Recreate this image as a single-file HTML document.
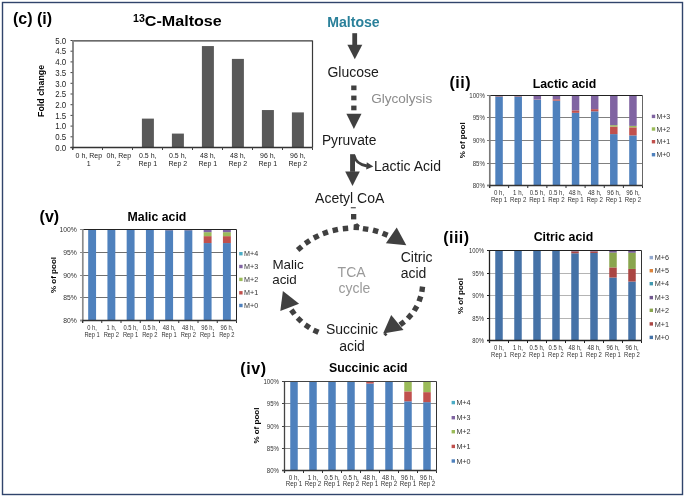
<!DOCTYPE html>
<html><head><meta charset="utf-8"><style>
html,body{margin:0;padding:0;background:#fff;}
body{width:685px;height:497px;overflow:hidden;}
svg{display:block;font-family:"Liberation Sans", sans-serif;will-change:transform;}
</style></head><body>
<svg width="685" height="497" viewBox="0 0 685 497">
<rect width="685" height="497" fill="#fff"/>
<rect x="2.5" y="2.5" width="680" height="492" fill="none" stroke="#30446b" stroke-width="1.4"/>
<rect x="141.9" y="118.61" width="12" height="28.89" fill="#595959"/>
<rect x="171.9" y="133.59" width="12" height="13.91" fill="#595959"/>
<rect x="201.9" y="46.06" width="12" height="101.44" fill="#595959"/>
<rect x="231.9" y="58.90" width="12" height="88.60" fill="#595959"/>
<rect x="261.9" y="110.05" width="12" height="37.45" fill="#595959"/>
<rect x="291.9" y="112.40" width="12" height="35.10" fill="#595959"/>
<line x1="72.5" y1="40.9" x2="312.5" y2="40.9" stroke="#3a3a3a" stroke-width="1.3"/>
<line x1="312.5" y1="40.5" x2="312.5" y2="147.5" stroke="#3a3a3a" stroke-width="1.2"/>
<line x1="73.0" y1="40.5" x2="73.0" y2="149.8" stroke="#8a8a8a" stroke-width="2"/>
<line x1="70.5" y1="147.5" x2="312.5" y2="147.5" stroke="#333" stroke-width="1.4"/>
<line x1="70.5" y1="147.50" x2="72.5" y2="147.50" stroke="#444" stroke-width="1"/>
<text transform="translate(66.2,150.70) scale(0.875,1)" font-size="9" text-anchor="end" font-weight="normal" fill="#222">0.0</text>
<line x1="70.5" y1="136.80" x2="72.5" y2="136.80" stroke="#444" stroke-width="1"/>
<text transform="translate(66.2,140.00) scale(0.875,1)" font-size="9" text-anchor="end" font-weight="normal" fill="#222">0.5</text>
<line x1="70.5" y1="126.10" x2="72.5" y2="126.10" stroke="#444" stroke-width="1"/>
<text transform="translate(66.2,129.30) scale(0.875,1)" font-size="9" text-anchor="end" font-weight="normal" fill="#222">1.0</text>
<line x1="70.5" y1="115.40" x2="72.5" y2="115.40" stroke="#444" stroke-width="1"/>
<text transform="translate(66.2,118.60) scale(0.875,1)" font-size="9" text-anchor="end" font-weight="normal" fill="#222">1.5</text>
<line x1="70.5" y1="104.70" x2="72.5" y2="104.70" stroke="#444" stroke-width="1"/>
<text transform="translate(66.2,107.90) scale(0.875,1)" font-size="9" text-anchor="end" font-weight="normal" fill="#222">2.0</text>
<line x1="70.5" y1="94.00" x2="72.5" y2="94.00" stroke="#444" stroke-width="1"/>
<text transform="translate(66.2,97.20) scale(0.875,1)" font-size="9" text-anchor="end" font-weight="normal" fill="#222">2.5</text>
<line x1="70.5" y1="83.30" x2="72.5" y2="83.30" stroke="#444" stroke-width="1"/>
<text transform="translate(66.2,86.50) scale(0.875,1)" font-size="9" text-anchor="end" font-weight="normal" fill="#222">3.0</text>
<line x1="70.5" y1="72.60" x2="72.5" y2="72.60" stroke="#444" stroke-width="1"/>
<text transform="translate(66.2,75.80) scale(0.875,1)" font-size="9" text-anchor="end" font-weight="normal" fill="#222">3.5</text>
<line x1="70.5" y1="61.90" x2="72.5" y2="61.90" stroke="#444" stroke-width="1"/>
<text transform="translate(66.2,65.10) scale(0.875,1)" font-size="9" text-anchor="end" font-weight="normal" fill="#222">4.0</text>
<line x1="70.5" y1="51.20" x2="72.5" y2="51.20" stroke="#444" stroke-width="1"/>
<text transform="translate(66.2,54.40) scale(0.875,1)" font-size="9" text-anchor="end" font-weight="normal" fill="#222">4.5</text>
<line x1="70.5" y1="40.50" x2="72.5" y2="40.50" stroke="#444" stroke-width="1"/>
<text transform="translate(66.2,43.70) scale(0.875,1)" font-size="9" text-anchor="end" font-weight="normal" fill="#222">5.0</text>
<line x1="72.5" y1="147.5" x2="72.5" y2="150.0" stroke="#444" stroke-width="1"/>
<line x1="102.5" y1="147.5" x2="102.5" y2="150.0" stroke="#444" stroke-width="1"/>
<line x1="132.5" y1="147.5" x2="132.5" y2="150.0" stroke="#444" stroke-width="1"/>
<line x1="162.5" y1="147.5" x2="162.5" y2="150.0" stroke="#444" stroke-width="1"/>
<line x1="192.5" y1="147.5" x2="192.5" y2="150.0" stroke="#444" stroke-width="1"/>
<line x1="222.5" y1="147.5" x2="222.5" y2="150.0" stroke="#444" stroke-width="1"/>
<line x1="252.5" y1="147.5" x2="252.5" y2="150.0" stroke="#444" stroke-width="1"/>
<line x1="282.5" y1="147.5" x2="282.5" y2="150.0" stroke="#444" stroke-width="1"/>
<line x1="312.5" y1="147.5" x2="312.5" y2="150.0" stroke="#444" stroke-width="1"/>
<text x="88.8" y="158.3" font-size="7" text-anchor="middle" font-weight="normal" fill="#222" >0 h, Rep</text>
<text x="88.8" y="165.9" font-size="7" text-anchor="middle" font-weight="normal" fill="#222" >1</text>
<text x="118.8" y="158.3" font-size="7" text-anchor="middle" font-weight="normal" fill="#222" >0h, Rep</text>
<text x="118.8" y="165.9" font-size="7" text-anchor="middle" font-weight="normal" fill="#222" >2</text>
<text x="147.8" y="158.3" font-size="7" text-anchor="middle" font-weight="normal" fill="#222" >0.5 h,</text>
<text x="147.8" y="165.9" font-size="7" text-anchor="middle" font-weight="normal" fill="#222" >Rep 1</text>
<text x="177.8" y="158.3" font-size="7" text-anchor="middle" font-weight="normal" fill="#222" >0.5 h,</text>
<text x="177.8" y="165.9" font-size="7" text-anchor="middle" font-weight="normal" fill="#222" >Rep 2</text>
<text x="207.8" y="158.3" font-size="7" text-anchor="middle" font-weight="normal" fill="#222" >48 h,</text>
<text x="207.8" y="165.9" font-size="7" text-anchor="middle" font-weight="normal" fill="#222" >Rep 1</text>
<text x="237.8" y="158.3" font-size="7" text-anchor="middle" font-weight="normal" fill="#222" >48 h,</text>
<text x="237.8" y="165.9" font-size="7" text-anchor="middle" font-weight="normal" fill="#222" >Rep 2</text>
<text x="267.8" y="158.3" font-size="7" text-anchor="middle" font-weight="normal" fill="#222" >96 h,</text>
<text x="267.8" y="165.9" font-size="7" text-anchor="middle" font-weight="normal" fill="#222" >Rep 1</text>
<text x="297.8" y="158.3" font-size="7" text-anchor="middle" font-weight="normal" fill="#222" >96 h,</text>
<text x="297.8" y="165.9" font-size="7" text-anchor="middle" font-weight="normal" fill="#222" >Rep 2</text>
<text x="0" y="0" font-size="8.9" font-weight="bold" text-anchor="middle" transform="translate(44,90.9) rotate(-90)">Fold change</text>
<text x="13" y="23.7" font-size="16" text-anchor="start" font-weight="bold" fill="#000" >(c) (i)</text>
<text transform="translate(133,26.4) scale(1.06,1)" font-size="15.2" font-weight="bold"><tspan font-size="10" dy="-4.8">13</tspan><tspan dy="4.8">C-Maltose</tspan></text>
<text x="327.2" y="26.5" font-size="14.1" text-anchor="start" font-weight="bold" fill="#2a809a" >Maltose</text>
<rect x="352.3" y="33.2" width="4.8" height="11.8" fill="#404040"/>
<polygon points="347.4,44.8 362.3,44.8 354.8,59.2" fill="#404040"/>
<text x="327.4" y="76.8" font-size="14" text-anchor="start" font-weight="normal" fill="#1a1a1a" >Glucose</text>
<rect x="351.2" y="85.5" width="5.3" height="4.7" fill="#404040"/>
<rect x="351.2" y="95.6" width="5.3" height="4.7" fill="#404040"/>
<rect x="351.2" y="105.6" width="5.3" height="4.7" fill="#404040"/>
<polygon points="346.4,113.8 361.5,113.8 353.9,129" fill="#404040"/>
<text x="371.2" y="102.7" font-size="13.55" text-anchor="start" font-weight="normal" fill="#8c8c8c" >Glycolysis</text>
<text x="321.9" y="144.9" font-size="13.8" text-anchor="start" font-weight="normal" fill="#1a1a1a" >Pyruvate</text>
<rect x="350.1" y="154.2" width="4.9" height="17.6" fill="#404040"/>
<polygon points="345.2,171.6 359.8,171.6 352.5,186" fill="#404040"/>
<path d="M353.8,155 C355.5,162 359.5,164.8 367,166" fill="none" stroke="#404040" stroke-width="3"/>
<polygon points="366.8,162.2 373.3,166.4 366.2,169.4" fill="#404040"/>
<text x="374" y="170.9" font-size="14" text-anchor="start" font-weight="normal" fill="#1a1a1a" >Lactic Acid</text>
<rect x="351" y="214" width="5.3" height="5.4" fill="#404040"/>
<rect x="350.8" y="207.2" width="5" height="1.1" fill="#404040"/>
<text x="315.1" y="203.1" font-size="14" text-anchor="start" font-weight="normal" fill="#1a1a1a" >Acetyl CoA</text>
<rect x="297.00" y="245.60" width="5.4" height="5.4" fill="#404040" transform="rotate(-40.3 299.7 248.3)"/>
<rect x="304.80" y="239.20" width="5.4" height="5.4" fill="#404040" transform="rotate(-33.3 307.5 241.9)"/>
<rect x="313.50" y="234.10" width="5.4" height="5.4" fill="#404040" transform="rotate(-26.3 316.2 236.8)"/>
<rect x="322.70" y="230.10" width="5.4" height="5.4" fill="#404040" transform="rotate(-19.4 325.4 232.8)"/>
<rect x="332.60" y="227.30" width="5.4" height="5.4" fill="#404040" transform="rotate(-12.3 335.3 230)"/>
<rect x="342.80" y="225.80" width="5.4" height="5.4" fill="#404040" transform="rotate(-5.2 345.5 228.5)"/>
<rect x="353.60" y="224.70" width="5.4" height="5.4" fill="#404040" transform="rotate(2.3 356.3 227.4)"/>
<rect x="362.90" y="226.30" width="5.4" height="5.4" fill="#404040" transform="rotate(8.7 365.6 229)"/>
<rect x="372.90" y="228.10" width="5.4" height="5.4" fill="#404040" transform="rotate(15.7 375.6 230.8)"/>
<rect x="382.40" y="231.50" width="5.4" height="5.4" fill="#404040" transform="rotate(22.7 385.1 234.2)"/>
<polygon points="354.2,224.5 357.3,223.3 359.8,225.5 358.5,228 354,228" fill="#404040"/>
<polygon points="396.7,227.4 406.3,245.3 385.9,243.2" fill="#404040"/>
<rect x="419.50" y="286.60" width="5.4" height="5.4" fill="#404040" transform="rotate(97.6 422.2 289.3)"/>
<rect x="417.20" y="296.20" width="5.4" height="5.4" fill="#404040" transform="rotate(108.6 419.9 298.9)"/>
<rect x="412.90" y="305.70" width="5.4" height="5.4" fill="#404040" transform="rotate(120.2 415.6 308.4)"/>
<rect x="406.90" y="313.70" width="5.4" height="5.4" fill="#404040" transform="rotate(131.4 409.6 316.4)"/>
<rect x="399.50" y="320.50" width="5.4" height="5.4" fill="#404040" transform="rotate(142.6 402.2 323.2)"/>
<polygon points="391.2,314.9 403.5,330 383.1,333.5" fill="#404040"/>
<rect x="384" y="333" width="3" height="2.6" fill="#404040" transform="rotate(45 385.5 334.3)"/>
<rect x="290.20" y="309.40" width="5.4" height="5.4" fill="#404040" transform="rotate(234.1 292.9 312.1)"/>
<rect x="296.80" y="317.00" width="5.4" height="5.4" fill="#404040" transform="rotate(224.0 299.5 319.7)"/>
<rect x="304.70" y="323.50" width="5.4" height="5.4" fill="#404040" transform="rotate(213.7 307.4 326.2)"/>
<rect x="313.30" y="328.50" width="5.4" height="5.4" fill="#404040" transform="rotate(203.7 316 331.2)"/>
<polygon points="282.9,291 299.1,303.7 280.3,311.1" fill="#404040"/>
<text x="272.4" y="268.5" font-size="13.4" text-anchor="start" font-weight="normal" fill="#1a1a1a" >Malic</text>
<text x="272.2" y="284.4" font-size="13.4" text-anchor="start" font-weight="normal" fill="#1a1a1a" >acid</text>
<text x="337.6" y="276.6" font-size="14" text-anchor="start" font-weight="normal" fill="#9a9a9a" >TCA</text>
<text x="338.4" y="292.6" font-size="14" text-anchor="start" font-weight="normal" fill="#9a9a9a" >cycle</text>
<text x="400.7" y="261.6" font-size="14" text-anchor="start" font-weight="normal" fill="#1a1a1a" >Citric</text>
<text x="400.7" y="278.1" font-size="14" text-anchor="start" font-weight="normal" fill="#1a1a1a" >acid</text>
<text x="352" y="333.7" font-size="14" text-anchor="middle" font-weight="normal" fill="#1a1a1a" >Succinic</text>
<text x="352" y="350.7" font-size="14" text-anchor="middle" font-weight="normal" fill="#1a1a1a" >acid</text>
<line x1="489.5" y1="117.50" x2="642.5" y2="117.50" stroke="#808080" stroke-width="1"/>
<line x1="489.5" y1="140.50" x2="642.5" y2="140.50" stroke="#808080" stroke-width="1"/>
<line x1="489.5" y1="163.50" x2="642.5" y2="163.50" stroke="#808080" stroke-width="1"/>
<rect x="495.31" y="96.40" width="7.5" height="89.10" fill="#4f81bd"/>
<rect x="495.31" y="95.50" width="7.5" height="0.90" fill="#c0504d"/>
<rect x="514.44" y="96.40" width="7.5" height="89.10" fill="#4f81bd"/>
<rect x="514.44" y="95.50" width="7.5" height="0.90" fill="#c0504d"/>
<rect x="533.56" y="99.69" width="7.5" height="85.81" fill="#4f81bd"/>
<rect x="533.56" y="99.46" width="7.5" height="0.22" fill="#c0504d"/>
<rect x="533.56" y="95.50" width="7.5" height="3.96" fill="#8064a2"/>
<rect x="552.69" y="100.68" width="7.5" height="84.82" fill="#4f81bd"/>
<rect x="552.69" y="99.33" width="7.5" height="1.35" fill="#c0504d"/>
<rect x="552.69" y="95.50" width="7.5" height="3.82" fill="#8064a2"/>
<rect x="571.81" y="112.82" width="7.5" height="72.68" fill="#4f81bd"/>
<rect x="571.81" y="110.35" width="7.5" height="2.47" fill="#c0504d"/>
<rect x="571.81" y="95.50" width="7.5" height="14.85" fill="#8064a2"/>
<rect x="590.94" y="111.34" width="7.5" height="74.16" fill="#4f81bd"/>
<rect x="590.94" y="109.14" width="7.5" height="2.20" fill="#c0504d"/>
<rect x="590.94" y="95.50" width="7.5" height="13.64" fill="#8064a2"/>
<rect x="610.06" y="134.11" width="7.5" height="51.39" fill="#4f81bd"/>
<rect x="610.06" y="126.55" width="7.5" height="7.56" fill="#c0504d"/>
<rect x="610.06" y="125.15" width="7.5" height="1.40" fill="#9bbb59"/>
<rect x="610.06" y="95.50" width="7.5" height="29.65" fill="#8064a2"/>
<rect x="629.19" y="135.42" width="7.5" height="50.08" fill="#4f81bd"/>
<rect x="629.19" y="127.36" width="7.5" height="8.06" fill="#c0504d"/>
<rect x="629.19" y="125.88" width="7.5" height="1.48" fill="#9bbb59"/>
<rect x="629.19" y="95.50" width="7.5" height="30.38" fill="#8064a2"/>
<line x1="489.5" y1="95.5" x2="642.5" y2="95.5" stroke="#222" stroke-width="1"/>
<line x1="642.5" y1="95.5" x2="642.5" y2="185.5" stroke="#666" stroke-width="1"/>
<line x1="489.8" y1="95.0" x2="489.8" y2="188.0" stroke="#7a7a7a" stroke-width="1.7"/>
<line x1="487.0" y1="185.5" x2="642.5" y2="185.5" stroke="#333" stroke-width="1.3"/>
<line x1="487.0" y1="95.50" x2="489.5" y2="95.50" stroke="#7a7a7a" stroke-width="1"/>
<text transform="translate(484.8,98.01) scale(0.87,1)" font-size="7" text-anchor="end" font-weight="normal" fill="#333">100%</text>
<line x1="487.0" y1="117.50" x2="489.5" y2="117.50" stroke="#7a7a7a" stroke-width="1"/>
<text transform="translate(484.8,120.01) scale(0.87,1)" font-size="7" text-anchor="end" font-weight="normal" fill="#333">95%</text>
<line x1="487.0" y1="140.50" x2="489.5" y2="140.50" stroke="#7a7a7a" stroke-width="1"/>
<text transform="translate(484.8,143.01) scale(0.87,1)" font-size="7" text-anchor="end" font-weight="normal" fill="#333">90%</text>
<line x1="487.0" y1="163.50" x2="489.5" y2="163.50" stroke="#7a7a7a" stroke-width="1"/>
<text transform="translate(484.8,166.01) scale(0.87,1)" font-size="7" text-anchor="end" font-weight="normal" fill="#333">85%</text>
<line x1="487.0" y1="185.50" x2="489.5" y2="185.50" stroke="#7a7a7a" stroke-width="1"/>
<text transform="translate(484.8,188.01) scale(0.87,1)" font-size="7" text-anchor="end" font-weight="normal" fill="#333">80%</text>
<line x1="489.50" y1="185.5" x2="489.50" y2="188.0" stroke="#333" stroke-width="1"/>
<line x1="508.62" y1="185.5" x2="508.62" y2="188.0" stroke="#333" stroke-width="1"/>
<line x1="527.75" y1="185.5" x2="527.75" y2="188.0" stroke="#333" stroke-width="1"/>
<line x1="546.88" y1="185.5" x2="546.88" y2="188.0" stroke="#333" stroke-width="1"/>
<line x1="566.00" y1="185.5" x2="566.00" y2="188.0" stroke="#333" stroke-width="1"/>
<line x1="585.12" y1="185.5" x2="585.12" y2="188.0" stroke="#333" stroke-width="1"/>
<line x1="604.25" y1="185.5" x2="604.25" y2="188.0" stroke="#333" stroke-width="1"/>
<line x1="623.38" y1="185.5" x2="623.38" y2="188.0" stroke="#333" stroke-width="1"/>
<line x1="642.50" y1="185.5" x2="642.50" y2="188.0" stroke="#333" stroke-width="1"/>
<text transform="translate(499.06,194.9) scale(0.9,1)" font-size="6.8" text-anchor="middle" font-weight="normal" fill="#333">0 h,</text>
<text transform="translate(499.06,201.9) scale(0.9,1)" font-size="6.8" text-anchor="middle" font-weight="normal" fill="#333">Rep 1</text>
<text transform="translate(518.19,194.9) scale(0.9,1)" font-size="6.8" text-anchor="middle" font-weight="normal" fill="#333">1 h,</text>
<text transform="translate(518.19,201.9) scale(0.9,1)" font-size="6.8" text-anchor="middle" font-weight="normal" fill="#333">Rep 2</text>
<text transform="translate(537.31,194.9) scale(0.9,1)" font-size="6.8" text-anchor="middle" font-weight="normal" fill="#333">0.5 h,</text>
<text transform="translate(537.31,201.9) scale(0.9,1)" font-size="6.8" text-anchor="middle" font-weight="normal" fill="#333">Rep 1</text>
<text transform="translate(556.44,194.9) scale(0.9,1)" font-size="6.8" text-anchor="middle" font-weight="normal" fill="#333">0.5 h,</text>
<text transform="translate(556.44,201.9) scale(0.9,1)" font-size="6.8" text-anchor="middle" font-weight="normal" fill="#333">Rep 2</text>
<text transform="translate(575.56,194.9) scale(0.9,1)" font-size="6.8" text-anchor="middle" font-weight="normal" fill="#333">48 h,</text>
<text transform="translate(575.56,201.9) scale(0.9,1)" font-size="6.8" text-anchor="middle" font-weight="normal" fill="#333">Rep 1</text>
<text transform="translate(594.69,194.9) scale(0.9,1)" font-size="6.8" text-anchor="middle" font-weight="normal" fill="#333">48 h,</text>
<text transform="translate(594.69,201.9) scale(0.9,1)" font-size="6.8" text-anchor="middle" font-weight="normal" fill="#333">Rep 2</text>
<text transform="translate(613.81,194.9) scale(0.9,1)" font-size="6.8" text-anchor="middle" font-weight="normal" fill="#333">96 h,</text>
<text transform="translate(613.81,201.9) scale(0.9,1)" font-size="6.8" text-anchor="middle" font-weight="normal" fill="#333">Rep 1</text>
<text transform="translate(632.94,194.9) scale(0.9,1)" font-size="6.8" text-anchor="middle" font-weight="normal" fill="#333">96 h,</text>
<text transform="translate(632.94,201.9) scale(0.9,1)" font-size="6.8" text-anchor="middle" font-weight="normal" fill="#333">Rep 2</text>
<text x="0" y="0" font-size="8" font-weight="bold" text-anchor="middle" transform="translate(464.8,140.3) rotate(-90)" fill="#000">% of pool</text>
<text x="532.7" y="88.1" font-size="12.3" text-anchor="start" font-weight="bold" fill="#000" >Lactic acid</text>
<text x="449.6" y="87.7" font-size="16" text-anchor="start" font-weight="bold" fill="#000" letter-spacing="0.45">(ii)</text>
<rect x="651.8" y="114.70" width="3.4" height="3.4" fill="#8064a2"/>
<text transform="translate(656.5,119.00) scale(0.89,1)" font-size="7.8" text-anchor="start" font-weight="normal" fill="#333">M+3</text>
<rect x="651.8" y="127.30" width="3.4" height="3.4" fill="#9bbb59"/>
<text transform="translate(656.5,131.60) scale(0.89,1)" font-size="7.8" text-anchor="start" font-weight="normal" fill="#333">M+2</text>
<rect x="651.8" y="140.00" width="3.4" height="3.4" fill="#c0504d"/>
<text transform="translate(656.5,144.30) scale(0.89,1)" font-size="7.8" text-anchor="start" font-weight="normal" fill="#333">M+1</text>
<rect x="651.8" y="153.00" width="3.4" height="3.4" fill="#4f81bd"/>
<text transform="translate(656.5,157.30) scale(0.89,1)" font-size="7.8" text-anchor="start" font-weight="normal" fill="#333">M+0</text>
<line x1="489.5" y1="273.50" x2="641.5" y2="273.50" stroke="#b4b4b4" stroke-width="1"/>
<line x1="489.5" y1="295.50" x2="641.5" y2="295.50" stroke="#b4b4b4" stroke-width="1"/>
<line x1="489.5" y1="318.50" x2="641.5" y2="318.50" stroke="#b4b4b4" stroke-width="1"/>
<rect x="495.25" y="250.95" width="7.5" height="89.55" fill="#4572a7"/>
<rect x="495.25" y="250.50" width="7.5" height="0.45" fill="#aa4643"/>
<rect x="514.25" y="250.50" width="7.5" height="90.00" fill="#4572a7"/>
<rect x="533.25" y="250.95" width="7.5" height="89.55" fill="#4572a7"/>
<rect x="533.25" y="250.50" width="7.5" height="0.45" fill="#aa4643"/>
<rect x="552.25" y="250.50" width="7.5" height="90.00" fill="#4572a7"/>
<rect x="571.25" y="253.29" width="7.5" height="87.21" fill="#4572a7"/>
<rect x="571.25" y="251.40" width="7.5" height="1.89" fill="#aa4643"/>
<rect x="571.25" y="250.50" width="7.5" height="0.90" fill="#71588f"/>
<rect x="590.25" y="252.97" width="7.5" height="87.53" fill="#4572a7"/>
<rect x="590.25" y="251.40" width="7.5" height="1.57" fill="#aa4643"/>
<rect x="590.25" y="250.50" width="7.5" height="0.90" fill="#71588f"/>
<rect x="609.25" y="277.55" width="7.5" height="62.95" fill="#4572a7"/>
<rect x="609.25" y="267.42" width="7.5" height="10.12" fill="#aa4643"/>
<rect x="609.25" y="252.57" width="7.5" height="14.85" fill="#89a54e"/>
<rect x="609.25" y="250.50" width="7.5" height="2.07" fill="#71588f"/>
<rect x="628.25" y="281.55" width="7.5" height="58.95" fill="#4572a7"/>
<rect x="628.25" y="268.95" width="7.5" height="12.60" fill="#aa4643"/>
<rect x="628.25" y="252.75" width="7.5" height="16.20" fill="#89a54e"/>
<rect x="628.25" y="250.50" width="7.5" height="2.25" fill="#71588f"/>
<line x1="489.5" y1="250.5" x2="641.5" y2="250.5" stroke="#222" stroke-width="1"/>
<line x1="641.5" y1="250.5" x2="641.5" y2="340.5" stroke="#333" stroke-width="1"/>
<line x1="489.5" y1="250.0" x2="489.5" y2="343.0" stroke="#222" stroke-width="1.3"/>
<line x1="487.0" y1="340.5" x2="641.5" y2="340.5" stroke="#222" stroke-width="1.3"/>
<line x1="487.0" y1="250.50" x2="489.5" y2="250.50" stroke="#222" stroke-width="1"/>
<text transform="translate(484,253.01) scale(0.84,1)" font-size="7" text-anchor="end" font-weight="normal" fill="#333">100%</text>
<line x1="487.0" y1="273.50" x2="489.5" y2="273.50" stroke="#222" stroke-width="1"/>
<text transform="translate(484,276.01) scale(0.84,1)" font-size="7" text-anchor="end" font-weight="normal" fill="#333">95%</text>
<line x1="487.0" y1="295.50" x2="489.5" y2="295.50" stroke="#222" stroke-width="1"/>
<text transform="translate(484,298.01) scale(0.84,1)" font-size="7" text-anchor="end" font-weight="normal" fill="#333">90%</text>
<line x1="487.0" y1="318.50" x2="489.5" y2="318.50" stroke="#222" stroke-width="1"/>
<text transform="translate(484,321.01) scale(0.84,1)" font-size="7" text-anchor="end" font-weight="normal" fill="#333">85%</text>
<line x1="487.0" y1="340.50" x2="489.5" y2="340.50" stroke="#222" stroke-width="1"/>
<text transform="translate(484,343.01) scale(0.84,1)" font-size="7" text-anchor="end" font-weight="normal" fill="#333">80%</text>
<line x1="489.50" y1="340.5" x2="489.50" y2="343.0" stroke="#222" stroke-width="1"/>
<line x1="508.50" y1="340.5" x2="508.50" y2="343.0" stroke="#222" stroke-width="1"/>
<line x1="527.50" y1="340.5" x2="527.50" y2="343.0" stroke="#222" stroke-width="1"/>
<line x1="546.50" y1="340.5" x2="546.50" y2="343.0" stroke="#222" stroke-width="1"/>
<line x1="565.50" y1="340.5" x2="565.50" y2="343.0" stroke="#222" stroke-width="1"/>
<line x1="584.50" y1="340.5" x2="584.50" y2="343.0" stroke="#222" stroke-width="1"/>
<line x1="603.50" y1="340.5" x2="603.50" y2="343.0" stroke="#222" stroke-width="1"/>
<line x1="622.50" y1="340.5" x2="622.50" y2="343.0" stroke="#222" stroke-width="1"/>
<line x1="641.50" y1="340.5" x2="641.50" y2="343.0" stroke="#222" stroke-width="1"/>
<text transform="translate(499.00,349.8) scale(0.87,1)" font-size="6.8" text-anchor="middle" font-weight="normal" fill="#333">0 h,</text>
<text transform="translate(499.00,356.8) scale(0.87,1)" font-size="6.8" text-anchor="middle" font-weight="normal" fill="#333">Rep 1</text>
<text transform="translate(518.00,349.8) scale(0.87,1)" font-size="6.8" text-anchor="middle" font-weight="normal" fill="#333">1 h,</text>
<text transform="translate(518.00,356.8) scale(0.87,1)" font-size="6.8" text-anchor="middle" font-weight="normal" fill="#333">Rep 2</text>
<text transform="translate(537.00,349.8) scale(0.87,1)" font-size="6.8" text-anchor="middle" font-weight="normal" fill="#333">0.5 h,</text>
<text transform="translate(537.00,356.8) scale(0.87,1)" font-size="6.8" text-anchor="middle" font-weight="normal" fill="#333">Rep 1</text>
<text transform="translate(556.00,349.8) scale(0.87,1)" font-size="6.8" text-anchor="middle" font-weight="normal" fill="#333">0.5 h,</text>
<text transform="translate(556.00,356.8) scale(0.87,1)" font-size="6.8" text-anchor="middle" font-weight="normal" fill="#333">Rep 2</text>
<text transform="translate(575.00,349.8) scale(0.87,1)" font-size="6.8" text-anchor="middle" font-weight="normal" fill="#333">48 h,</text>
<text transform="translate(575.00,356.8) scale(0.87,1)" font-size="6.8" text-anchor="middle" font-weight="normal" fill="#333">Rep 1</text>
<text transform="translate(594.00,349.8) scale(0.87,1)" font-size="6.8" text-anchor="middle" font-weight="normal" fill="#333">48 h,</text>
<text transform="translate(594.00,356.8) scale(0.87,1)" font-size="6.8" text-anchor="middle" font-weight="normal" fill="#333">Rep 2</text>
<text transform="translate(613.00,349.8) scale(0.87,1)" font-size="6.8" text-anchor="middle" font-weight="normal" fill="#333">96 h,</text>
<text transform="translate(613.00,356.8) scale(0.87,1)" font-size="6.8" text-anchor="middle" font-weight="normal" fill="#333">Rep 1</text>
<text transform="translate(632.00,349.8) scale(0.87,1)" font-size="6.8" text-anchor="middle" font-weight="normal" fill="#333">96 h,</text>
<text transform="translate(632.00,356.8) scale(0.87,1)" font-size="6.8" text-anchor="middle" font-weight="normal" fill="#333">Rep 2</text>
<text x="0" y="0" font-size="8" font-weight="bold" text-anchor="middle" transform="translate(463.0,296.1) rotate(-90)" fill="#000">% of pool</text>
<text x="533.7" y="241.2" font-size="12.3" text-anchor="start" font-weight="bold" fill="#000" >Citric acid</text>
<text x="443.3" y="243.3" font-size="16" text-anchor="start" font-weight="bold" fill="#000" letter-spacing="0.45">(iii)</text>
<rect x="649.6" y="255.90" width="3.4" height="3.4" fill="#93a9cf"/>
<text transform="translate(654.7,260.20) scale(0.93,1)" font-size="7.8" text-anchor="start" font-weight="normal" fill="#333">M+6</text>
<rect x="649.6" y="269.00" width="3.4" height="3.4" fill="#db843d"/>
<text transform="translate(654.7,273.30) scale(0.93,1)" font-size="7.8" text-anchor="start" font-weight="normal" fill="#333">M+5</text>
<rect x="649.6" y="282.00" width="3.4" height="3.4" fill="#4198af"/>
<text transform="translate(654.7,286.30) scale(0.93,1)" font-size="7.8" text-anchor="start" font-weight="normal" fill="#333">M+4</text>
<rect x="649.6" y="295.90" width="3.4" height="3.4" fill="#71588f"/>
<text transform="translate(654.7,300.20) scale(0.93,1)" font-size="7.8" text-anchor="start" font-weight="normal" fill="#333">M+3</text>
<rect x="649.6" y="308.60" width="3.4" height="3.4" fill="#89a54e"/>
<text transform="translate(654.7,312.90) scale(0.93,1)" font-size="7.8" text-anchor="start" font-weight="normal" fill="#333">M+2</text>
<rect x="649.6" y="322.20" width="3.4" height="3.4" fill="#aa4643"/>
<text transform="translate(654.7,326.50) scale(0.93,1)" font-size="7.8" text-anchor="start" font-weight="normal" fill="#333">M+1</text>
<rect x="649.6" y="335.70" width="3.4" height="3.4" fill="#4572a7"/>
<text transform="translate(654.7,340.00) scale(0.93,1)" font-size="7.8" text-anchor="start" font-weight="normal" fill="#333">M+0</text>
<line x1="284.5" y1="403.50" x2="436.5" y2="403.50" stroke="#8c8c8c" stroke-width="1"/>
<line x1="284.5" y1="426.50" x2="436.5" y2="426.50" stroke="#8c8c8c" stroke-width="1"/>
<line x1="284.5" y1="448.50" x2="436.5" y2="448.50" stroke="#8c8c8c" stroke-width="1"/>
<rect x="290.25" y="381.94" width="7.5" height="88.56" fill="#4f81bd"/>
<rect x="290.25" y="381.50" width="7.5" height="0.44" fill="#c0504d"/>
<rect x="309.25" y="381.94" width="7.5" height="88.56" fill="#4f81bd"/>
<rect x="309.25" y="381.50" width="7.5" height="0.44" fill="#c0504d"/>
<rect x="328.25" y="381.94" width="7.5" height="88.56" fill="#4f81bd"/>
<rect x="328.25" y="381.50" width="7.5" height="0.44" fill="#c0504d"/>
<rect x="347.25" y="381.72" width="7.5" height="88.78" fill="#4f81bd"/>
<rect x="347.25" y="381.50" width="7.5" height="0.22" fill="#c0504d"/>
<rect x="366.25" y="383.50" width="7.5" height="87.00" fill="#4f81bd"/>
<rect x="366.25" y="381.50" width="7.5" height="2.00" fill="#c0504d"/>
<rect x="385.25" y="381.94" width="7.5" height="88.56" fill="#4f81bd"/>
<rect x="385.25" y="381.50" width="7.5" height="0.44" fill="#c0504d"/>
<rect x="404.25" y="401.30" width="7.5" height="69.20" fill="#4f81bd"/>
<rect x="404.25" y="391.38" width="7.5" height="9.92" fill="#c0504d"/>
<rect x="404.25" y="381.68" width="7.5" height="9.70" fill="#9bbb59"/>
<rect x="423.25" y="402.15" width="7.5" height="68.35" fill="#4f81bd"/>
<rect x="423.25" y="392.14" width="7.5" height="10.01" fill="#c0504d"/>
<rect x="423.25" y="381.72" width="7.5" height="10.41" fill="#9bbb59"/>
<line x1="284.5" y1="381.5" x2="436.5" y2="381.5" stroke="#444" stroke-width="1"/>
<line x1="436.5" y1="381.5" x2="436.5" y2="470.5" stroke="#333" stroke-width="1"/>
<line x1="284.5" y1="381.0" x2="284.5" y2="473.0" stroke="#444" stroke-width="1.3"/>
<line x1="282.0" y1="470.5" x2="436.5" y2="470.5" stroke="#333" stroke-width="1.3"/>
<line x1="282.0" y1="381.50" x2="284.5" y2="381.50" stroke="#444" stroke-width="1"/>
<text transform="translate(279,384.01) scale(0.87,1)" font-size="7" text-anchor="end" font-weight="normal" fill="#333">100%</text>
<line x1="282.0" y1="403.50" x2="284.5" y2="403.50" stroke="#444" stroke-width="1"/>
<text transform="translate(279,406.01) scale(0.87,1)" font-size="7" text-anchor="end" font-weight="normal" fill="#333">95%</text>
<line x1="282.0" y1="426.50" x2="284.5" y2="426.50" stroke="#444" stroke-width="1"/>
<text transform="translate(279,429.01) scale(0.87,1)" font-size="7" text-anchor="end" font-weight="normal" fill="#333">90%</text>
<line x1="282.0" y1="448.50" x2="284.5" y2="448.50" stroke="#444" stroke-width="1"/>
<text transform="translate(279,451.01) scale(0.87,1)" font-size="7" text-anchor="end" font-weight="normal" fill="#333">85%</text>
<line x1="282.0" y1="470.50" x2="284.5" y2="470.50" stroke="#444" stroke-width="1"/>
<text transform="translate(279,473.01) scale(0.87,1)" font-size="7" text-anchor="end" font-weight="normal" fill="#333">80%</text>
<line x1="284.50" y1="470.5" x2="284.50" y2="473.0" stroke="#333" stroke-width="1"/>
<line x1="303.50" y1="470.5" x2="303.50" y2="473.0" stroke="#333" stroke-width="1"/>
<line x1="322.50" y1="470.5" x2="322.50" y2="473.0" stroke="#333" stroke-width="1"/>
<line x1="341.50" y1="470.5" x2="341.50" y2="473.0" stroke="#333" stroke-width="1"/>
<line x1="360.50" y1="470.5" x2="360.50" y2="473.0" stroke="#333" stroke-width="1"/>
<line x1="379.50" y1="470.5" x2="379.50" y2="473.0" stroke="#333" stroke-width="1"/>
<line x1="398.50" y1="470.5" x2="398.50" y2="473.0" stroke="#333" stroke-width="1"/>
<line x1="417.50" y1="470.5" x2="417.50" y2="473.0" stroke="#333" stroke-width="1"/>
<line x1="436.50" y1="470.5" x2="436.50" y2="473.0" stroke="#333" stroke-width="1"/>
<text transform="translate(294.00,479.6) scale(0.92,1)" font-size="6.8" text-anchor="middle" font-weight="normal" fill="#333">0 h,</text>
<text transform="translate(294.00,486.4) scale(0.92,1)" font-size="6.8" text-anchor="middle" font-weight="normal" fill="#333">Rep 1</text>
<text transform="translate(313.00,479.6) scale(0.92,1)" font-size="6.8" text-anchor="middle" font-weight="normal" fill="#333">1 h,</text>
<text transform="translate(313.00,486.4) scale(0.92,1)" font-size="6.8" text-anchor="middle" font-weight="normal" fill="#333">Rep 2</text>
<text transform="translate(332.00,479.6) scale(0.92,1)" font-size="6.8" text-anchor="middle" font-weight="normal" fill="#333">0.5 h,</text>
<text transform="translate(332.00,486.4) scale(0.92,1)" font-size="6.8" text-anchor="middle" font-weight="normal" fill="#333">Rep 1</text>
<text transform="translate(351.00,479.6) scale(0.92,1)" font-size="6.8" text-anchor="middle" font-weight="normal" fill="#333">0.5 h,</text>
<text transform="translate(351.00,486.4) scale(0.92,1)" font-size="6.8" text-anchor="middle" font-weight="normal" fill="#333">Rep 2</text>
<text transform="translate(370.00,479.6) scale(0.92,1)" font-size="6.8" text-anchor="middle" font-weight="normal" fill="#333">48 h,</text>
<text transform="translate(370.00,486.4) scale(0.92,1)" font-size="6.8" text-anchor="middle" font-weight="normal" fill="#333">Rep 1</text>
<text transform="translate(389.00,479.6) scale(0.92,1)" font-size="6.8" text-anchor="middle" font-weight="normal" fill="#333">48 h,</text>
<text transform="translate(389.00,486.4) scale(0.92,1)" font-size="6.8" text-anchor="middle" font-weight="normal" fill="#333">Rep 2</text>
<text transform="translate(408.00,479.6) scale(0.92,1)" font-size="6.8" text-anchor="middle" font-weight="normal" fill="#333">96 h,</text>
<text transform="translate(408.00,486.4) scale(0.92,1)" font-size="6.8" text-anchor="middle" font-weight="normal" fill="#333">Rep 1</text>
<text transform="translate(427.00,479.6) scale(0.92,1)" font-size="6.8" text-anchor="middle" font-weight="normal" fill="#333">96 h,</text>
<text transform="translate(427.00,486.4) scale(0.92,1)" font-size="6.8" text-anchor="middle" font-weight="normal" fill="#333">Rep 2</text>
<text x="0" y="0" font-size="8" font-weight="bold" text-anchor="middle" transform="translate(258.7,425.6) rotate(-90)" fill="#000">% of pool</text>
<text x="329" y="372.4" font-size="12.3" text-anchor="start" font-weight="bold" fill="#000" >Succinic acid</text>
<text x="240.3" y="374.2" font-size="16" text-anchor="start" font-weight="bold" fill="#000" letter-spacing="0.6">(iv)</text>
<rect x="451.6" y="400.90" width="3.4" height="3.4" fill="#4bacc6"/>
<text transform="translate(456.4,405.20) scale(0.92,1)" font-size="7.8" text-anchor="start" font-weight="normal" fill="#333">M+4</text>
<rect x="451.6" y="416.00" width="3.4" height="3.4" fill="#8064a2"/>
<text transform="translate(456.4,420.30) scale(0.92,1)" font-size="7.8" text-anchor="start" font-weight="normal" fill="#333">M+3</text>
<rect x="451.6" y="430.00" width="3.4" height="3.4" fill="#9bbb59"/>
<text transform="translate(456.4,434.30) scale(0.92,1)" font-size="7.8" text-anchor="start" font-weight="normal" fill="#333">M+2</text>
<rect x="451.6" y="444.70" width="3.4" height="3.4" fill="#c0504d"/>
<text transform="translate(456.4,449.00) scale(0.92,1)" font-size="7.8" text-anchor="start" font-weight="normal" fill="#333">M+1</text>
<rect x="451.6" y="459.30" width="3.4" height="3.4" fill="#4f81bd"/>
<text transform="translate(456.4,463.60) scale(0.92,1)" font-size="7.8" text-anchor="start" font-weight="normal" fill="#333">M+0</text>
<line x1="82.5" y1="252.50" x2="236.5" y2="252.50" stroke="#707070" stroke-width="1"/>
<line x1="82.5" y1="275.50" x2="236.5" y2="275.50" stroke="#707070" stroke-width="1"/>
<line x1="82.5" y1="297.50" x2="236.5" y2="297.50" stroke="#707070" stroke-width="1"/>
<rect x="88.17" y="229.50" width="7.9" height="91.00" fill="#4f81bd"/>
<rect x="107.42" y="229.50" width="7.9" height="91.00" fill="#4f81bd"/>
<rect x="126.67" y="229.50" width="7.9" height="91.00" fill="#4f81bd"/>
<rect x="145.93" y="229.50" width="7.9" height="91.00" fill="#4f81bd"/>
<rect x="165.18" y="230.18" width="7.9" height="90.32" fill="#4f81bd"/>
<rect x="165.18" y="229.50" width="7.9" height="0.68" fill="#c0504d"/>
<rect x="184.43" y="230.18" width="7.9" height="90.32" fill="#4f81bd"/>
<rect x="184.43" y="229.50" width="7.9" height="0.68" fill="#c0504d"/>
<rect x="203.68" y="243.06" width="7.9" height="77.44" fill="#4f81bd"/>
<rect x="203.68" y="236.14" width="7.9" height="6.92" fill="#c0504d"/>
<rect x="203.68" y="232.18" width="7.9" height="3.96" fill="#9bbb59"/>
<rect x="203.68" y="229.50" width="7.9" height="2.68" fill="#8064a2"/>
<rect x="222.93" y="243.06" width="7.9" height="77.44" fill="#4f81bd"/>
<rect x="222.93" y="236.14" width="7.9" height="6.92" fill="#c0504d"/>
<rect x="222.93" y="232.18" width="7.9" height="3.96" fill="#9bbb59"/>
<rect x="222.93" y="229.50" width="7.9" height="2.68" fill="#8064a2"/>
<line x1="82.5" y1="229.5" x2="236.5" y2="229.5" stroke="#222" stroke-width="1"/>
<line x1="236.5" y1="229.5" x2="236.5" y2="320.5" stroke="#222" stroke-width="1"/>
<line x1="82.8" y1="229.0" x2="82.8" y2="323.0" stroke="#8c8c8c" stroke-width="1.7"/>
<line x1="80.0" y1="320.5" x2="236.5" y2="320.5" stroke="#333" stroke-width="1.3"/>
<line x1="80.0" y1="229.50" x2="82.5" y2="229.50" stroke="#8c8c8c" stroke-width="1"/>
<text transform="translate(76.9,232.36) scale(0.85,1)" font-size="8" text-anchor="end" font-weight="normal" fill="#333">100%</text>
<line x1="80.0" y1="252.50" x2="82.5" y2="252.50" stroke="#8c8c8c" stroke-width="1"/>
<text transform="translate(76.9,255.36) scale(0.85,1)" font-size="8" text-anchor="end" font-weight="normal" fill="#333">95%</text>
<line x1="80.0" y1="275.50" x2="82.5" y2="275.50" stroke="#8c8c8c" stroke-width="1"/>
<text transform="translate(76.9,278.36) scale(0.85,1)" font-size="8" text-anchor="end" font-weight="normal" fill="#333">90%</text>
<line x1="80.0" y1="297.50" x2="82.5" y2="297.50" stroke="#8c8c8c" stroke-width="1"/>
<text transform="translate(76.9,300.36) scale(0.85,1)" font-size="8" text-anchor="end" font-weight="normal" fill="#333">85%</text>
<line x1="80.0" y1="320.50" x2="82.5" y2="320.50" stroke="#8c8c8c" stroke-width="1"/>
<text transform="translate(76.9,323.36) scale(0.85,1)" font-size="8" text-anchor="end" font-weight="normal" fill="#333">80%</text>
<line x1="82.50" y1="320.5" x2="82.50" y2="323.0" stroke="#333" stroke-width="1"/>
<line x1="101.75" y1="320.5" x2="101.75" y2="323.0" stroke="#333" stroke-width="1"/>
<line x1="121.00" y1="320.5" x2="121.00" y2="323.0" stroke="#333" stroke-width="1"/>
<line x1="140.25" y1="320.5" x2="140.25" y2="323.0" stroke="#333" stroke-width="1"/>
<line x1="159.50" y1="320.5" x2="159.50" y2="323.0" stroke="#333" stroke-width="1"/>
<line x1="178.75" y1="320.5" x2="178.75" y2="323.0" stroke="#333" stroke-width="1"/>
<line x1="198.00" y1="320.5" x2="198.00" y2="323.0" stroke="#333" stroke-width="1"/>
<line x1="217.25" y1="320.5" x2="217.25" y2="323.0" stroke="#333" stroke-width="1"/>
<line x1="236.50" y1="320.5" x2="236.50" y2="323.0" stroke="#333" stroke-width="1"/>
<text transform="translate(92.12,330) scale(0.85,1)" font-size="6.8" text-anchor="middle" font-weight="normal" fill="#333">0 h,</text>
<text transform="translate(92.12,336.9) scale(0.85,1)" font-size="6.8" text-anchor="middle" font-weight="normal" fill="#333">Rep 1</text>
<text transform="translate(111.38,330) scale(0.85,1)" font-size="6.8" text-anchor="middle" font-weight="normal" fill="#333">1 h,</text>
<text transform="translate(111.38,336.9) scale(0.85,1)" font-size="6.8" text-anchor="middle" font-weight="normal" fill="#333">Rep 2</text>
<text transform="translate(130.62,330) scale(0.85,1)" font-size="6.8" text-anchor="middle" font-weight="normal" fill="#333">0.5 h,</text>
<text transform="translate(130.62,336.9) scale(0.85,1)" font-size="6.8" text-anchor="middle" font-weight="normal" fill="#333">Rep 1</text>
<text transform="translate(149.88,330) scale(0.85,1)" font-size="6.8" text-anchor="middle" font-weight="normal" fill="#333">0.5 h,</text>
<text transform="translate(149.88,336.9) scale(0.85,1)" font-size="6.8" text-anchor="middle" font-weight="normal" fill="#333">Rep 2</text>
<text transform="translate(169.12,330) scale(0.85,1)" font-size="6.8" text-anchor="middle" font-weight="normal" fill="#333">48 h,</text>
<text transform="translate(169.12,336.9) scale(0.85,1)" font-size="6.8" text-anchor="middle" font-weight="normal" fill="#333">Rep 1</text>
<text transform="translate(188.38,330) scale(0.85,1)" font-size="6.8" text-anchor="middle" font-weight="normal" fill="#333">48 h,</text>
<text transform="translate(188.38,336.9) scale(0.85,1)" font-size="6.8" text-anchor="middle" font-weight="normal" fill="#333">Rep 2</text>
<text transform="translate(207.62,330) scale(0.85,1)" font-size="6.8" text-anchor="middle" font-weight="normal" fill="#333">96 h,</text>
<text transform="translate(207.62,336.9) scale(0.85,1)" font-size="6.8" text-anchor="middle" font-weight="normal" fill="#333">Rep 1</text>
<text transform="translate(226.88,330) scale(0.85,1)" font-size="6.8" text-anchor="middle" font-weight="normal" fill="#333">96 h,</text>
<text transform="translate(226.88,336.9) scale(0.85,1)" font-size="6.8" text-anchor="middle" font-weight="normal" fill="#333">Rep 2</text>
<text x="0" y="0" font-size="8" font-weight="bold" text-anchor="middle" transform="translate(56.1,275) rotate(-90)" fill="#000">% of pool</text>
<text x="127.6" y="220.5" font-size="12.3" text-anchor="start" font-weight="bold" fill="#000" >Malic acid</text>
<text x="39.6" y="222.3" font-size="16" text-anchor="start" font-weight="bold" fill="#000" letter-spacing="0">(v)</text>
<rect x="239.2" y="252.00" width="3.4" height="3.4" fill="#4bacc6"/>
<text transform="translate(244.1,256.30) scale(0.92,1)" font-size="7.8" text-anchor="start" font-weight="normal" fill="#333">M+4</text>
<rect x="239.2" y="264.80" width="3.4" height="3.4" fill="#8064a2"/>
<text transform="translate(244.1,269.10) scale(0.92,1)" font-size="7.8" text-anchor="start" font-weight="normal" fill="#333">M+3</text>
<rect x="239.2" y="277.70" width="3.4" height="3.4" fill="#9bbb59"/>
<text transform="translate(244.1,282.00) scale(0.92,1)" font-size="7.8" text-anchor="start" font-weight="normal" fill="#333">M+2</text>
<rect x="239.2" y="291.10" width="3.4" height="3.4" fill="#c0504d"/>
<text transform="translate(244.1,295.40) scale(0.92,1)" font-size="7.8" text-anchor="start" font-weight="normal" fill="#333">M+1</text>
<rect x="239.2" y="303.80" width="3.4" height="3.4" fill="#4f81bd"/>
<text transform="translate(244.1,308.10) scale(0.92,1)" font-size="7.8" text-anchor="start" font-weight="normal" fill="#333">M+0</text>
</svg>
</body></html>
